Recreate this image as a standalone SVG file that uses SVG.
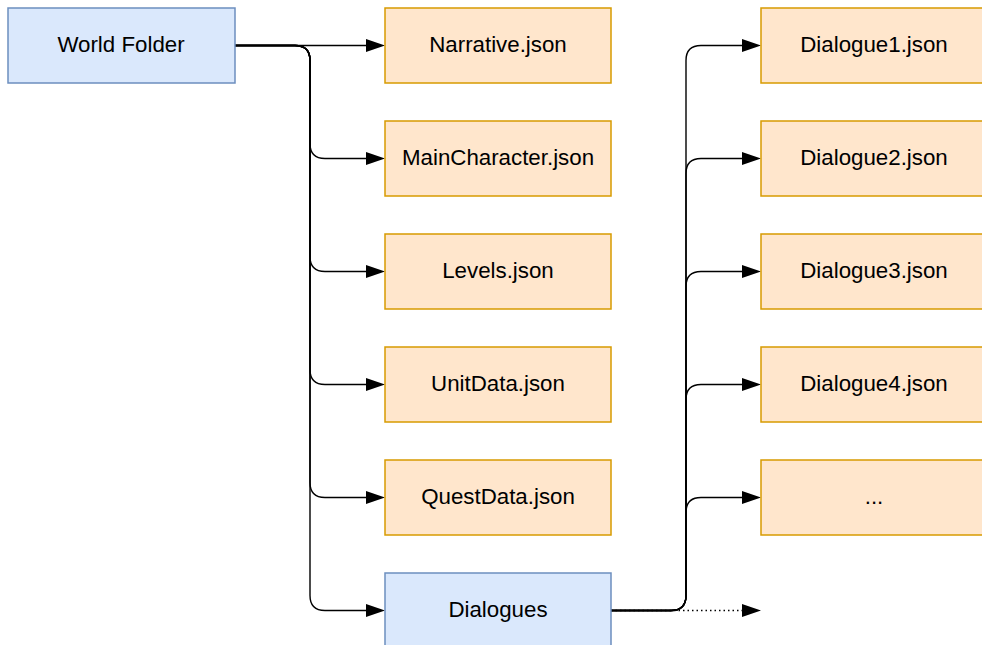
<svg xmlns="http://www.w3.org/2000/svg" width="982" height="645" viewBox="0 0 982 645">
<style>
.blue{fill:#dae8fc;stroke:#6c8ebf;stroke-width:1.5}
.orange{fill:#ffe6cc;stroke:#d79b00;stroke-width:1.5}
text{font-family:"Liberation Sans",Arial,sans-serif;font-size:22.3px;fill:#000;text-anchor:middle}
.edge{fill:none;stroke:#000;stroke-width:1.4;marker-end:url(#arr)}
.dot{stroke-dasharray:1.5 3}
</style>
<defs>
<marker id="arr" markerUnits="userSpaceOnUse" markerWidth="20" markerHeight="14" refX="0" refY="6.5" orient="auto" overflow="visible">
<path d="M0,0 L19,6.5 L0,13 z" fill="#000"/>
</marker>
</defs>
<rect width="982" height="645" fill="#fff"/>
<g id="connectors">
<path class="edge" d="M235 45.5 H366"/>
<path class="edge" d="M235 45.5 H295 Q310 45.5 310 60.5 V143.5 Q310 158.5 325 158.5 H366"/>
<path class="edge" d="M235 45.5 H295 Q310 45.5 310 60.5 V256.5 Q310 271.5 325 271.5 H366"/>
<path class="edge" d="M235 45.5 H295 Q310 45.5 310 60.5 V369.5 Q310 384.5 325 384.5 H366"/>
<path class="edge" d="M235 45.5 H295 Q310 45.5 310 60.5 V482.5 Q310 497.5 325 497.5 H366"/>
<path class="edge" d="M235 45.5 H295 Q310 45.5 310 60.5 V595.5 Q310 610.5 325 610.5 H366"/>
<path class="edge" d="M611 610.5 H671 Q686 610.5 686 595.5 V60.5 Q686 45.5 701 45.5 H742"/>
<path class="edge" d="M611 610.5 H671 Q686 610.5 686 595.5 V173.5 Q686 158.5 701 158.5 H742"/>
<path class="edge" d="M611 610.5 H671 Q686 610.5 686 595.5 V286.5 Q686 271.5 701 271.5 H742"/>
<path class="edge" d="M611 610.5 H671 Q686 610.5 686 595.5 V399.5 Q686 384.5 701 384.5 H742"/>
<path class="edge" d="M611 610.5 H671 Q686 610.5 686 595.5 V512.5 Q686 497.5 701 497.5 H742"/>
<path class="edge dot" d="M611 610.5 H742"/>
</g>
<g id="world-folder"><rect class="blue" x="8" y="8" width="227" height="75"/><text x="121" y="51.7">World Folder</text></g>
<g id="narrative"><rect class="orange" x="385" y="8" width="226" height="75"/><text x="498" y="51.7">Narrative.json</text></g>
<g id="main-character"><rect class="orange" x="385" y="121" width="226" height="75"/><text x="498" y="164.7">MainCharacter.json</text></g>
<g id="levels"><rect class="orange" x="385" y="234" width="226" height="75"/><text x="498" y="277.7">Levels.json</text></g>
<g id="unit-data"><rect class="orange" x="385" y="347" width="226" height="75"/><text x="498" y="390.7">UnitData.json</text></g>
<g id="quest-data"><rect class="orange" x="385" y="460" width="226" height="75"/><text x="498" y="503.7">QuestData.json</text></g>
<g id="dialogues"><rect class="blue" x="385" y="573" width="226" height="75"/><text x="498" y="616.7">Dialogues</text></g>
<g id="dialogue1"><rect class="orange" x="761" y="8" width="226" height="75"/><text x="874" y="51.7">Dialogue1.json</text></g>
<g id="dialogue2"><rect class="orange" x="761" y="121" width="226" height="75"/><text x="874" y="164.7">Dialogue2.json</text></g>
<g id="dialogue3"><rect class="orange" x="761" y="234" width="226" height="75"/><text x="874" y="277.7">Dialogue3.json</text></g>
<g id="dialogue4"><rect class="orange" x="761" y="347" width="226" height="75"/><text x="874" y="390.7">Dialogue4.json</text></g>
<g id="dialogue-more"><rect class="orange" x="761" y="460" width="226" height="75"/><text x="874" y="503.7">...</text></g>
</svg>
